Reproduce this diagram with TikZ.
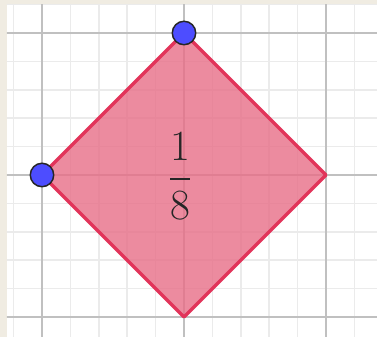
\documentclass[tikz,border=0pt]{standalone}
\usepackage{amsmath}
\definecolor{pagebeige}{RGB}{240,236,226}
\definecolor{gridminor}{RGB}{235,235,235}
\definecolor{gridmajor}{RGB}{192,192,192}
\definecolor{kiteline}{RGB}{226,52,90}
\definecolor{kitefill}{RGB}{232,110,135}
\definecolor{pointblue}{RGB}{77,77,255}
\tikzset{
  minorgrid/.style={gridminor,line width=0.6pt},
  majorgrid/.style={gridmajor,line width=0.7pt},
  kite/.style={draw=kiteline,fill=kitefill,fill opacity=0.8,line width=1.3pt,line join=round},
  freepoint/.style={circle,draw=black!85,fill=pointblue,line width=0.6pt,inner sep=0pt,minimum size=9.4pt}
}
\begin{document}
\begin{tikzpicture}[x=2cm,y=2cm]
     		\useasboundingbox (-0.2958,-1.1408) rectangle (2.3592,1.2324);
     		\fill[pagebeige] (-0.2958,-1.1408) rectangle (2.3592,1.2324);
     		\fill[white] (-0.2465,-1.1408) rectangle (2.3592,1.1972);
     		\begin{scope}
     		\clip (-0.2465,-1.1408) rectangle (2.3592,1.1972);
     		\foreach \x in {-0.2,0.2,0.4,...,0.8,1.2,1.4,...,1.8,2.2}
     			\draw[minorgrid] (\x,-1.2) -- (\x,1.3);
     		\foreach \y in {-0.8,-0.6,...,-0.2,0.2,0.4,...,0.8,1.2}
     			\draw[minorgrid] (-0.3,\y) -- (2.4,\y);
     		\foreach \x in {0,1,2}
     			\draw[majorgrid] (\x,-1.2) -- (\x,1.3);
     		\foreach \y in {-1,0,1}
     			\draw[majorgrid] (-0.3,\y) -- (2.4,\y);
     		\end{scope}
     		\coordinate (L) at (0,0);
     		\coordinate (T) at (1,1);
     		\coordinate (R) at (2,0);
     		\coordinate (B) at (1,-1);
     		\draw[kite] (L) -- (T) -- (R) -- (B) -- cycle;
     		\node[text=black!85] (area) at (0.972,-0.007) {\fontsize{17.4}{20}\selectfont$\dfrac{1}{8}$};
     		\node[freepoint] (ptT) at (T) {};
     		\node[freepoint] (ptL) at (L) {};
\end{tikzpicture}
\end{document}
